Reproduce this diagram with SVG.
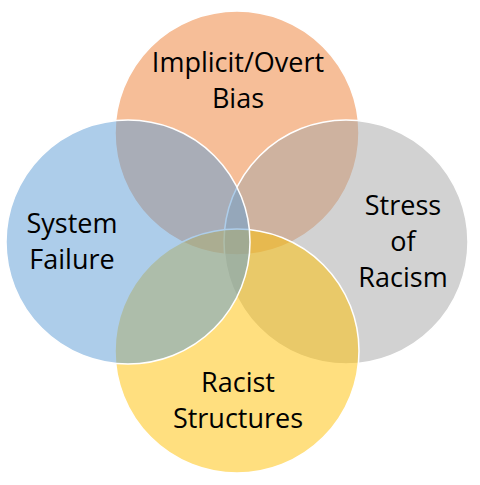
<svg xmlns="http://www.w3.org/2000/svg" width="480" height="485" viewBox="0 0 480 485">
<style>
.c{stroke:#ffffff;stroke-width:1.5;fill-opacity:0.5}
.t{font-family:"Open Sans","Liberation Sans",sans-serif;font-size:27px;fill:#000;text-anchor:middle}
</style>
<rect width="480" height="485" fill="#ffffff"/>
<g id="bias"><circle class="c" cx="237" cy="133" r="122" fill="#ED7D31"/></g>
<g id="stress"><circle class="c" cx="346" cy="242" r="122" fill="#A5A5A5"/></g>
<g id="structures"><circle class="c" cx="237" cy="351" r="122" fill="#FFC000"/></g>
<g id="failure"><circle class="c" cx="128" cy="242" r="122" fill="#5B9BD5"/></g>
<g id="labels">
<text class="t" x="238" y="72">Implicit/Overt</text>
<text class="t" x="238" y="108">Bias</text>
<text class="t" x="72" y="233">System</text>
<text class="t" x="72" y="269">Failure</text>
<text class="t" x="403" y="215">Stress</text>
<text class="t" x="403" y="251">of</text>
<text class="t" x="403" y="287">Racism</text>
<text class="t" x="238" y="392">Racist</text>
<text class="t" x="238" y="428">Structures</text>
</g>
</svg>
